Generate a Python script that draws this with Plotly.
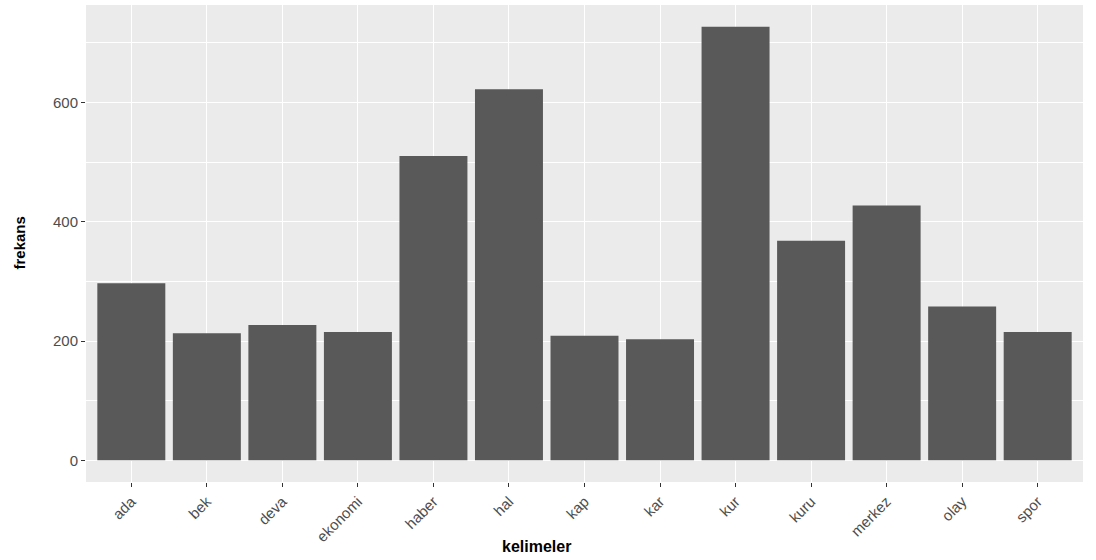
import plotly.graph_objects as go

kelimeler = ["ada", "bek", "deva", "ekonomi", "haber", "hal", "kap", "kar",
             "kur", "kuru", "merkez", "olay", "spor"]
frekans = [297, 213, 227, 215, 510, 622, 209, 203, 727, 368, 427, 258, 215]
y_ticks = [0, 200, 400, 600]

ymax = max(frekans)
pad = 0.05 * ymax

W, H = 1096, 560
L, R, T, B = 86, 13, 5, 78
pw, ph = W - L - R, H - T - B

fig = go.Figure(go.Bar(
    x=kelimeler, y=frekans, marker=dict(color="#595959", line=dict(width=0)),
    width=0.9,
))

font = "Liberation Sans, Arial, sans-serif"
fig.update_layout(
    width=W, height=H,
    margin=dict(l=L, r=R, t=T, b=B),
    paper_bgcolor="white", plot_bgcolor="#EBEBEB",
    showlegend=False,
    font=dict(family=font),
    xaxis=dict(
        range=[-0.6, len(kelimeler) - 0.4],
        showgrid=True, gridcolor="white", gridwidth=1.1,
        ticks="outside", ticklen=4, tickcolor="#333333", tickwidth=1.1,
        tickangle=-45, tickfont=dict(size=15, color="#4D4D4D", family=font),
        zeroline=False, automargin=False,
    ),
    yaxis=dict(
        range=[-pad, ymax + pad],
        tickvals=y_ticks,
        showgrid=True, gridcolor="white", gridwidth=1.1,
        minor=dict(dtick=100, tick0=0, showgrid=True, gridcolor="white", gridwidth=0.5),
        ticks="outside", ticklen=4, tickcolor="#333333", tickwidth=1.1,
        tickfont=dict(size=15, color="#4D4D4D", family=font),
        zeroline=False, automargin=False,
    ),
    annotations=[
        dict(text="<b>kelimeler</b>", xref="paper", yref="paper",
             x=(536 - L) / pw, y=(H - B - 546) / ph, xanchor="center", yanchor="middle",
             showarrow=False, font=dict(size=16, color="black", family=font)),
        dict(text="<b>frekans</b>", xref="paper", yref="paper",
             x=(19 - L) / pw, y=0.5, xanchor="center", yanchor="middle", textangle=-90,
             showarrow=False, font=dict(size=15, color="black", family=font)),
    ],
)

fig.write_html("out.html", config={"displayModeBar": False},
               post_script="document.body.style.margin='0px';")
